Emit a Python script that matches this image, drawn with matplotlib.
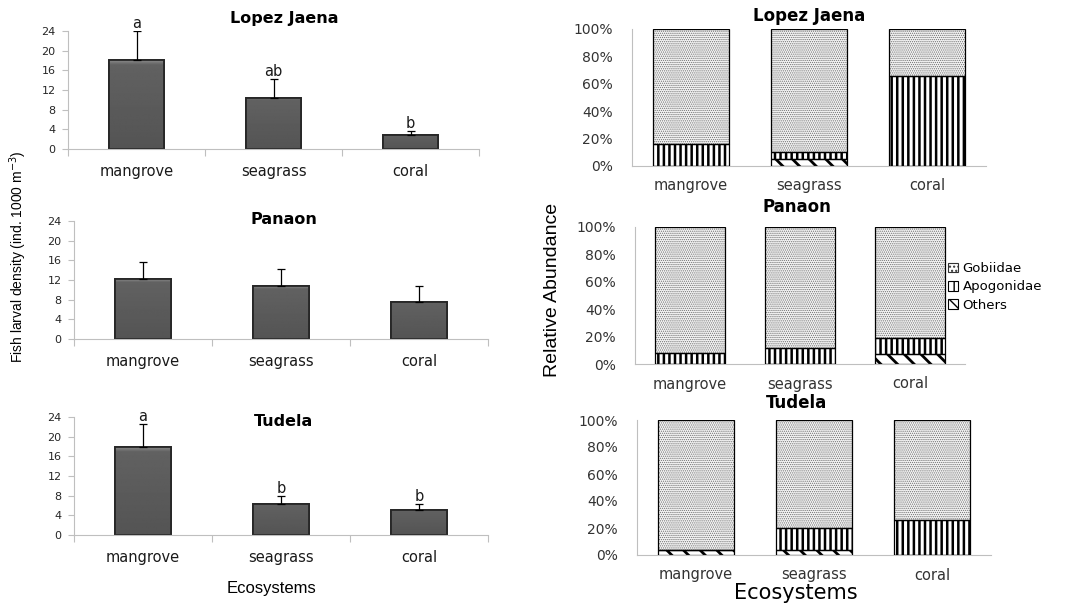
import numpy as np
import matplotlib
matplotlib.use("Agg")
import matplotlib.pyplot as plt
import matplotlib.patches as mpatches
from matplotlib.ticker import FuncFormatter

plt.rcParams["font.family"] = "DejaVu Sans"

ecosystems = ["mangrove", "seagrass", "coral"]
sites = ["Lopez Jaena", "Panaon", "Tudela"]

# larval density, mean and upper error (ind. 1000 m-3)
lj_density = [18.1, 10.4, 2.85]
lj_err = [5.9, 3.8, 0.8]
lj_letters = ["a", "ab", "b"]
pa_density = [12.2, 10.7, 7.6]
pa_err = [3.4, 3.6, 3.2]
pa_letters = ["", "", ""]
tu_density = [17.8, 6.4, 5.1]
tu_err = [4.8, 1.6, 1.2]
tu_letters = ["a", "b", "b"]

# relative abundance (%) per family, Gobiidae makes up the rest
lj_apogonidae = [16, 5, 66]
lj_others = [0, 5, 0]
pa_apogonidae = [8, 12, 12]
pa_others = [0, 0, 7]
tu_apogonidae = [0, 16.5, 26]
tu_others = [4, 3.5, 0]

W, H = 1075, 605
fig = plt.figure(figsize=(W / 100, H / 100), dpi=100)


def px_axes(x0, y0, x1, y1):
    return fig.add_axes([x0 / W, 1 - y1 / H, (x1 - x0) / W, (y1 - y0) / H])


def px_text(x, y, s, **kw):
    fig.text(x / W, 1 - y / H, s, **kw)


grid = "#bfbfbf"
x = np.arange(3) + 0.5

# left column: density bars
left_boxes = [(68, 31, 479, 149), (74, 221, 488, 339), (74, 417, 488, 535)]
left_title_base = [23, 224, 426]
left_data = [(lj_density, lj_err, lj_letters),
             (pa_density, pa_err, pa_letters),
             (tu_density, tu_err, tu_letters)]

for box, tb, site, (vals, errs, letters) in zip(left_boxes, left_title_base, sites, left_data):
    ax = px_axes(*box)
    bars = ax.bar(x, vals, width=0.4, color="#5a5a5a", edgecolor="#262626", lw=1.3, zorder=2)
    # slight sheen, lighter near the top of each bar
    for b in bars:
        grad = np.concatenate([np.linspace(0.52, 0.38, 4), np.linspace(0.38, 0.33, 60)])
        im = ax.imshow(grad.reshape(-1, 1), cmap="gray", vmin=0, vmax=1, aspect="auto",
                       zorder=2.1, interpolation="bilinear",
                       extent=[b.get_x(), b.get_x() + b.get_width(), 0, b.get_height()])
        im.set_clip_path(b)
        ax.bar(b.get_x() + b.get_width() / 2, b.get_height(), width=b.get_width(),
               fill=False, edgecolor="#262626", lw=1.3, zorder=2.2)
    ax.errorbar(x, vals, yerr=[np.zeros(3), errs], fmt="none", ecolor="black",
                elinewidth=0.9, capsize=3, capthick=0.9, zorder=3)
    for xi, v, e, lab in zip(x, vals, errs, letters):
        if lab:
            ax.annotate(lab, (xi, v + e), xytext=(0, 0), textcoords="offset points",
                        ha="center", va="bottom", fontsize=10.5, color="#1a1a1a")
    ax.set_xlim(0, 3)
    ax.set_ylim(0, 24)
    ax.set_yticks(range(0, 25, 4))
    ax.set_xticks([0, 1, 2, 3])
    ax.set_xticklabels([])
    ax.set_xticks(x, minor=True)
    ax.set_xticklabels(ecosystems, minor=True, fontsize=10.5, color="#1a1a1a")
    ax.tick_params(axis="x", which="major", length=5, color=grid)
    ax.tick_params(axis="x", which="minor", length=0, pad=11)
    ax.tick_params(axis="y", length=4, color=grid, labelsize=8, pad=5,
                   labelcolor="#262626")
    for s in ["top", "right"]:
        ax.spines[s].set_visible(False)
    for s in ["left", "bottom"]:
        ax.spines[s].set_color(grid)
    ax.patch.set_alpha(0)
    px_text(284, tb, site, ha="center", va="baseline", fontsize=11.5, fontweight="bold")

px_text(18, 257, "Fish larval density (ind. 1000 m$^{-3}$)", rotation=90,
        ha="center", va="center", fontsize=10, family="Liberation Sans")
px_text(272, 593, "Ecosystems", ha="center", va="baseline", fontsize=12,
        family="Liberation Sans")

# right column: stacked relative abundance
right_boxes = [(632, 29, 986, 166), (635, 227, 965, 364), (637, 420, 991, 555)]
right_title = [(809, 21), (797, 212), (797, 408)]
right_data = [(lj_others, lj_apogonidae), (pa_others, pa_apogonidae),
              (tu_others, tu_apogonidae)]

styles = {
    "Gobiidae": dict(face="#f4f4f4", hatch="........", hcolor="#707070", hlw=0.6),
    "Apogonidae": dict(face="white", hatch="|||", hcolor="black", hlw=1.8),
    "Others": dict(face="white", hatch="\\\\", hcolor="black", hlw=2.0),
}


def hatched_bar(ax, xs, heights, bottoms, st):
    bars = ax.bar(xs, heights, bottom=bottoms, width=0.64, color=st["face"],
                  edgecolor=st["hcolor"], hatch=st["hatch"], lw=0, zorder=2)
    for b in bars:
        if hasattr(b, "set_hatch_linewidth"):
            b.set_hatch_linewidth(st["hlw"])
    ax.bar(xs, heights, bottom=bottoms, width=0.64, fill=False,
           edgecolor="black", lw=0.9, zorder=3)


for box, (tx, ty), site, (oth, apo) in zip(right_boxes, right_title, sites, right_data):
    ax = px_axes(*box)
    oth = np.array(oth, dtype=float)
    apo = np.array(apo, dtype=float)
    gob = 100 - oth - apo
    hatched_bar(ax, x, oth, 0, styles["Others"])
    hatched_bar(ax, x, apo, oth, styles["Apogonidae"])
    hatched_bar(ax, x, gob, oth + apo, styles["Gobiidae"])
    ax.set_xlim(0, 3)
    ax.set_ylim(0, 100)
    ax.set_yticks(range(0, 101, 20))
    ax.yaxis.set_major_formatter(FuncFormatter(lambda v, p: f"{v:.0f}%"))
    ax.set_xticks(x)
    ax.set_xticklabels(ecosystems, fontsize=10.5, color="#333333")
    ax.tick_params(axis="x", length=0, pad=9)
    ax.tick_params(axis="y", length=0, pad=14, labelsize=10, labelcolor="#333333")
    for s in ["top", "right"]:
        ax.spines[s].set_visible(False)
    for s in ["left", "bottom"]:
        ax.spines[s].set_color(grid)
    ax.patch.set_alpha(0)
    px_text(tx, ty, site, ha="center", va="baseline", fontsize=12, fontweight="bold")

px_text(553, 290, "Relative Abundance", rotation=90, ha="center", va="center",
        fontsize=14, family="Liberation Sans")
px_text(796, 599, "Ecosystems", ha="center", va="baseline", fontsize=15)

legend_hatch = {"Gobiidae": "....", "Apogonidae": "||", "Others": "\\\\"}
handles = []
for name in ["Gobiidae", "Apogonidae", "Others"]:
    p = mpatches.Patch(facecolor="white", edgecolor="#333333" if name == "Gobiidae" else "black",
                       hatch=legend_hatch[name], lw=0.8, label=name)
    handles.append(p)
fig.legend(handles=handles, loc="upper left", bbox_to_anchor=(948 / W, 1 - 262 / H),
           frameon=False, fontsize=9.5, handlelength=0.75, handleheight=0.75,
           handletextpad=0.35, labelspacing=0.4, borderaxespad=0, borderpad=0)

fig.savefig("out.png", dpi=100)
